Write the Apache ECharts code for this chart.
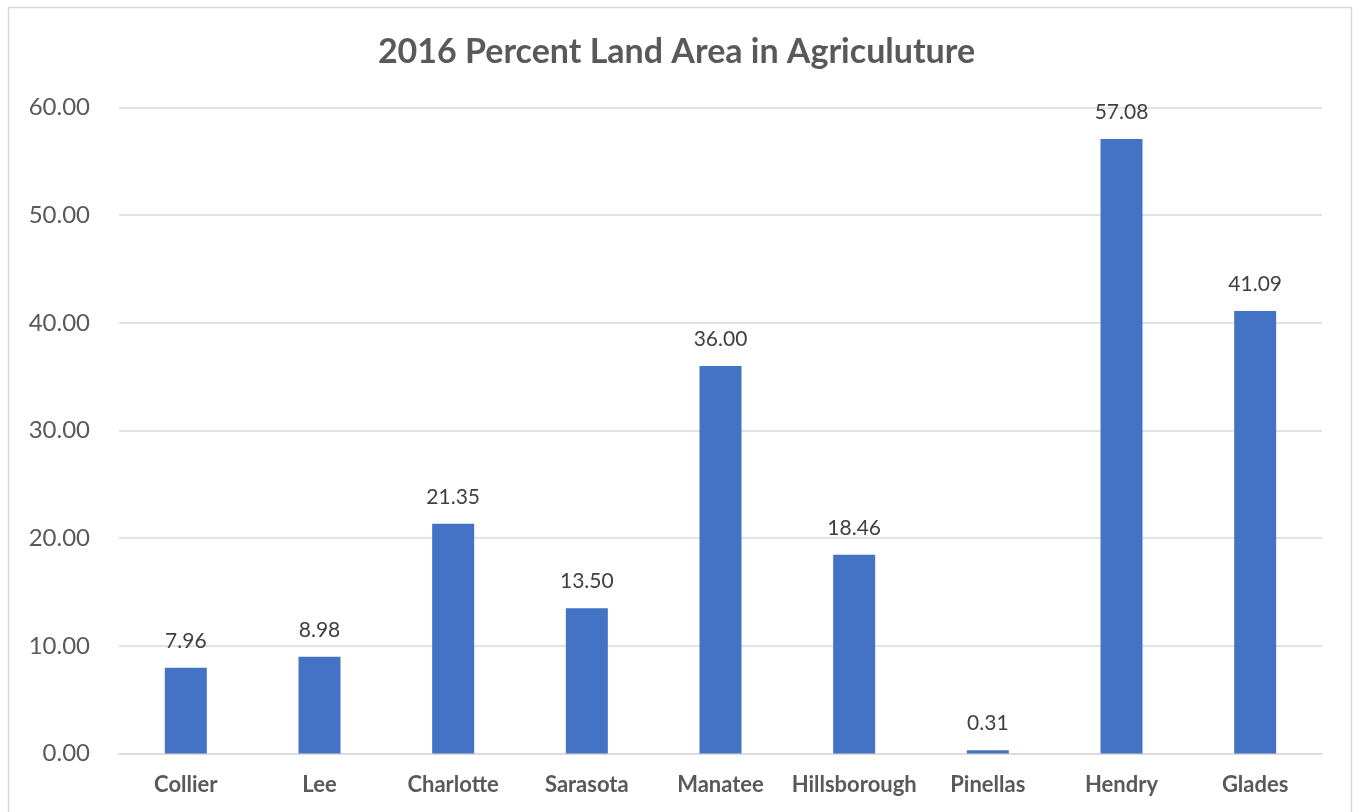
<!DOCTYPE html>
<html><head><meta charset="utf-8">
<script src="https://cdn.jsdelivr.net/npm/echarts@6/dist/echarts.min.js"></script>
<style>html,body{margin:0;padding:0;background:#fff}#c{width:1353px;height:812px}</style>
</head><body><div id="c"></div>
<script>
const categories = ['Collier','Lee','Charlotte','Sarasota','Manatee','Hillsborough','Pinellas','Hendry','Glades'];
const values = [7.96, 8.98, 21.35, 13.50, 36.00, 18.46, 0.31, 57.08, 41.09];
const titleText = '2016 Percent Land Area in Agriculuture';

const chart = echarts.init(document.getElementById('c'));
chart.setOption({
  animation: false,
  backgroundColor: '#fff',
  textStyle: { fontFamily: 'Lato' },
  graphic: [{
    type: 'rect', shape: { x: 8.5, y: 7.5, width: 1343, height: 820 },
    style: { fill: 'none', stroke: '#d9d9d9', lineWidth: 1.5 }, silent: true
  }],
  title: {
    text: titleText, left: 'center', top: 30,
    textStyle: { fontFamily: 'Lato', fontSize: 34, fontWeight: 'bold', color: '#595959' }
  },
  grid: { left: 119, right: 31, top: 107.5, bottom: 58.5, containLabel: false },
  xAxis: {
    type: 'category', data: categories,
    axisLine: { lineStyle: { color: '#d9d9d9', width: 1.5 } },
    axisTick: { show: false },
    axisLabel: { interval: 0, margin: 20, fontFamily: 'Lato', fontSize: 22, fontWeight: 'bold', color: '#595959' }
  },
  yAxis: {
    type: 'value', min: 0, max: 60, interval: 10,
    axisLine: { show: false }, axisTick: { show: false },
    splitLine: { lineStyle: { color: '#d9d9d9', width: 1.5 } },
    axisLabel: { margin: 29, fontFamily: 'Lato', fontSize: 24, color: '#595959',
      formatter: v => v.toFixed(2) }
  },
  series: [{
    type: 'bar', data: values, barWidth: 42,
    itemStyle: { color: '#4472c4' },
    label: { show: true, position: 'top', distance: 16, fontFamily: 'Lato', fontSize: 21, color: '#404040',
      formatter: p => p.value.toFixed(2) }
  }]
});
</script></body></html>
